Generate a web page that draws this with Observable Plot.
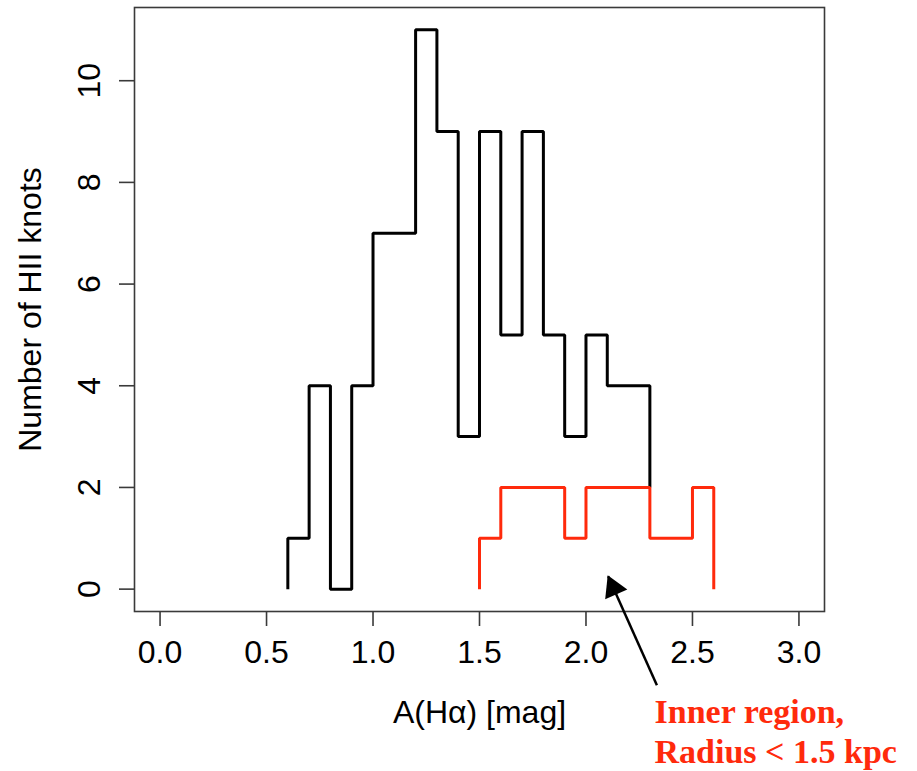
<!DOCTYPE html>
<html>
<head>
<meta charset="utf-8">
<script src="https://cdn.jsdelivr.net/npm/d3@7"></script>
<script src="https://cdn.jsdelivr.net/npm/@observablehq/plot@0.6"></script>
<style>
  html, body { margin: 0; padding: 0; background: #fff; }
  #chart svg { display: block; }
</style>
</head>
<body>
<div id="chart"></div>
<script>
// All knots: left bin edges and counts (bin width 0.1 mag)
const allEdges = [0.6, 0.7, 0.8, 0.9, 1.0, 1.1, 1.2, 1.3, 1.4, 1.5, 1.6, 1.7, 1.8, 1.9, 2.0, 2.1, 2.2, 2.3];
const allCounts = [1, 4, 0, 4, 7, 7, 11, 9, 3, 9, 5, 9, 5, 3, 5, 4, 4, 2];
// Inner region (radius < 1.5 kpc)
const innerEdges = [1.5, 1.6, 1.7, 1.8, 1.9, 2.0, 2.1, 2.2, 2.3, 2.4, 2.5, 2.6];
const innerCounts = [1, 2, 2, 2, 1, 2, 2, 2, 1, 1, 2, 0];

const xTicks = [0, 0.5, 1, 1.5, 2, 2.5, 3];
const yTicks = [0, 2, 4, 6, 8, 10];
const xLabel = "A(H\u03b1) [mag]";
const yLabel = "Number of HII knots";
const noteText = ["Inner region,", "Radius < 1.5 kpc"];
// annotation anchor (data units): arrow tail, arrow tip, text origin
const arrowTail = [2.333, -1.89];
const arrowTip = [2.104, 0.255];
const noteAt = [2.322, -2.07];

function steps(edges, counts) {
  const pts = [{x: edges[0], y: 0}];
  edges.forEach((e, i) => pts.push({x: e, y: counts[i]}));
  return pts;
}
const allPts = steps(allEdges, allCounts);
const innerPts = steps(innerEdges, innerCounts);

const RED = "#ff2a0c";
const FONT = "'Liberation Sans', Arial, Helvetica, sans-serif";

// arrow-head direction in screen space
const headAngle = -24; // degrees, clockwise from up
const headBack = 13;   // centroid distance from tip in px
const hdx = -Math.sin(headAngle * Math.PI / 180) * headBack;
const hdy = Math.cos(headAngle * Math.PI / 180) * headBack;

const chart = Plot.plot({
  width: 917,
  height: 771,
  marginLeft: 134,
  marginRight: 93,
  marginTop: 7,
  marginBottom: 160,
  style: {fontFamily: FONT, background: "#fff", overflow: "visible", color: "black"},
  x: {domain: [-0.12, 3.12]},
  y: {domain: [-0.44, 11.44]},
  marks: [
    Plot.frame({stroke: "#3a3a3a", strokeWidth: 1.6}),
    Plot.axisX({ticks: xTicks, tickSize: 15, tickPadding: 14, tickFormat: d3.format(".1f"),
      fontSize: 32, label: null, stroke: "#3a3a3a", strokeWidth: 1.6, fill: "black"}),
    Plot.axisY({ticks: yTicks, tickSize: 15, tickPadding: 20, tickRotate: -90,
      fontSize: 32, label: null, stroke: "#3a3a3a", strokeWidth: 1.6, fill: "black"}),
    Plot.text([xLabel], {frameAnchor: "bottom", dy: 101, fontSize: 32, fill: "black", lineAnchor: "middle", textAnchor: "middle"}),
    Plot.text([yLabel], {frameAnchor: "left", dx: -104, rotate: -90, fontSize: 32, fill: "black", lineAnchor: "middle", textAnchor: "middle"}),
    Plot.line(allPts, {x: "x", y: "y", curve: "step-after", stroke: "black", strokeWidth: 3, strokeLinejoin: "miter", strokeLinecap: "butt"}),
    Plot.line(innerPts, {x: "x", y: "y", curve: "step-after", stroke: RED, strokeWidth: 3, strokeLinejoin: "miter", strokeLinecap: "butt"}),
    Plot.link([0], {x1: () => arrowTail[0], y1: () => arrowTail[1], x2: () => arrowTip[0], y2: () => arrowTip[1],
      stroke: "black", strokeWidth: 2.5, clip: false}),
    Plot.dot([0], {x: () => arrowTip[0], y: () => arrowTip[1], symbol: "triangle", r: 9, fill: "black", stroke: "none",
      rotate: headAngle, dx: hdx, dy: hdy}),
    Plot.text([noteText.join("\n")], {x: () => noteAt[0], y: () => noteAt[1], textAnchor: "start", lineAnchor: "top",
      fontFamily: "'Liberation Serif', 'Times New Roman', serif", fontWeight: "bold", fontSize: 34, lineHeight: 1.18,
      fill: RED})
  ]
});
document.getElementById("chart").appendChild(chart);
</script>
</body>
</html>
